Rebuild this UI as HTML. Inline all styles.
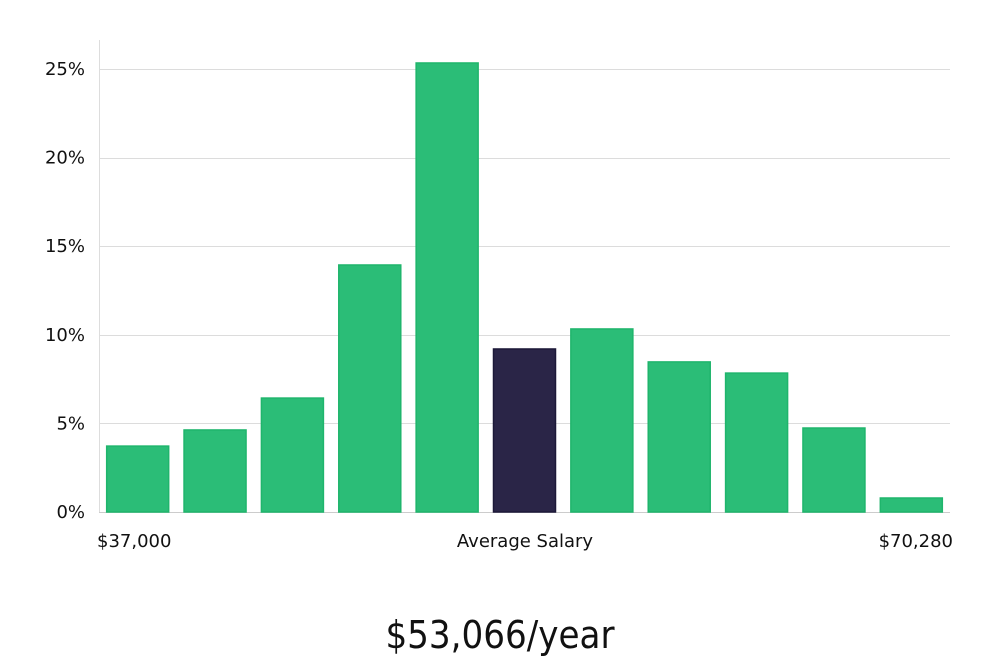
<!DOCTYPE html>
<html><head><meta charset="utf-8"><style>
body{margin:0;background:#fff;width:1000px;height:660px;overflow:hidden;font-family:"DejaVu Sans","Liberation Sans",sans-serif;}
svg text{font-family:"DejaVu Sans","Liberation Sans",sans-serif;}
</style></head><body>
<svg width="1000" height="660">
<g id="grid"></g>
<g id="bars"></g>
<line x1="99.5" y1="40" x2="99.5" y2="512" stroke="#ddd"/>
<text x="97" y="547" font-size="18" fill="#111">$37,000</text>
<text x="525" y="547" font-size="18" fill="#111" text-anchor="middle">Average Salary</text>
<text x="953" y="547" font-size="18" fill="#111" text-anchor="end">$70,280</text>
<text x="500" y="648" font-size="38" fill="#111" text-anchor="middle" style="font-family:'DejaVu Sans Condensed','Liberation Sans Narrow',sans-serif;font-weight:300">$53,066/year</text>
</svg>
<script>
const categories=["b1","b2","b3","b4","b5","b6","b7","b8","b9","b10","b11"];
const values=[3.72,4.63,6.43,13.94,25.34,9.2,10.33,8.47,7.84,4.74,0.79];
const highlightIndex=5;
const yTicks=[0,5,10,15,20,25];
const yTickLabels=["0%","5%","10%","15%","20%","25%"];
const NS="http://www.w3.org/2000/svg";
const x0=99,x1=950,y0=512,pxPer=(512-69)/25;
const yScale=v=>y0-v*pxPer;
const slot=(x1-x0)/categories.length;
const xScale=i=>x0+i*slot;
const grid=document.getElementById('grid');
yTicks.forEach((t,i)=>{
 const y=Math.round(yScale(t))+0.5;
 const l=document.createElementNS(NS,'line');
 l.setAttribute('x1',x0);l.setAttribute('x2',x1);l.setAttribute('y1',y);l.setAttribute('y2',y);
 l.setAttribute('stroke',t===0?'#ccc':'#dcdcdc');
 
 
 grid.appendChild(l);
 const tx=document.createElementNS(NS,'text');
 tx.setAttribute('x',85);tx.setAttribute('y',yScale(t)+6);tx.setAttribute('text-anchor','end');
 tx.setAttribute('font-size','18');tx.setAttribute('fill','#111');
 tx.textContent=yTickLabels[i];
 
 
 grid.appendChild(tx);
});
const bars=document.getElementById('bars');
const bw=63;
values.forEach((v,i)=>{
 const r=document.createElementNS(NS,'rect');
 const x=xScale(i)+(slot-bw)/2;
 r.setAttribute('x',x+0.5);r.setAttribute('y',yScale(v));
 r.setAttribute('width',bw-1);r.setAttribute('height',y0-yScale(v));
 const hl=i===highlightIndex;
 r.setAttribute('fill',hl?'#2a2547':'#2bbd77');
 r.setAttribute('stroke',hl?'#1c1838':'#1fb56c');
 r.setAttribute('stroke-width','1.5');
 
 
 bars.appendChild(r);
});
</script>
</body></html>
